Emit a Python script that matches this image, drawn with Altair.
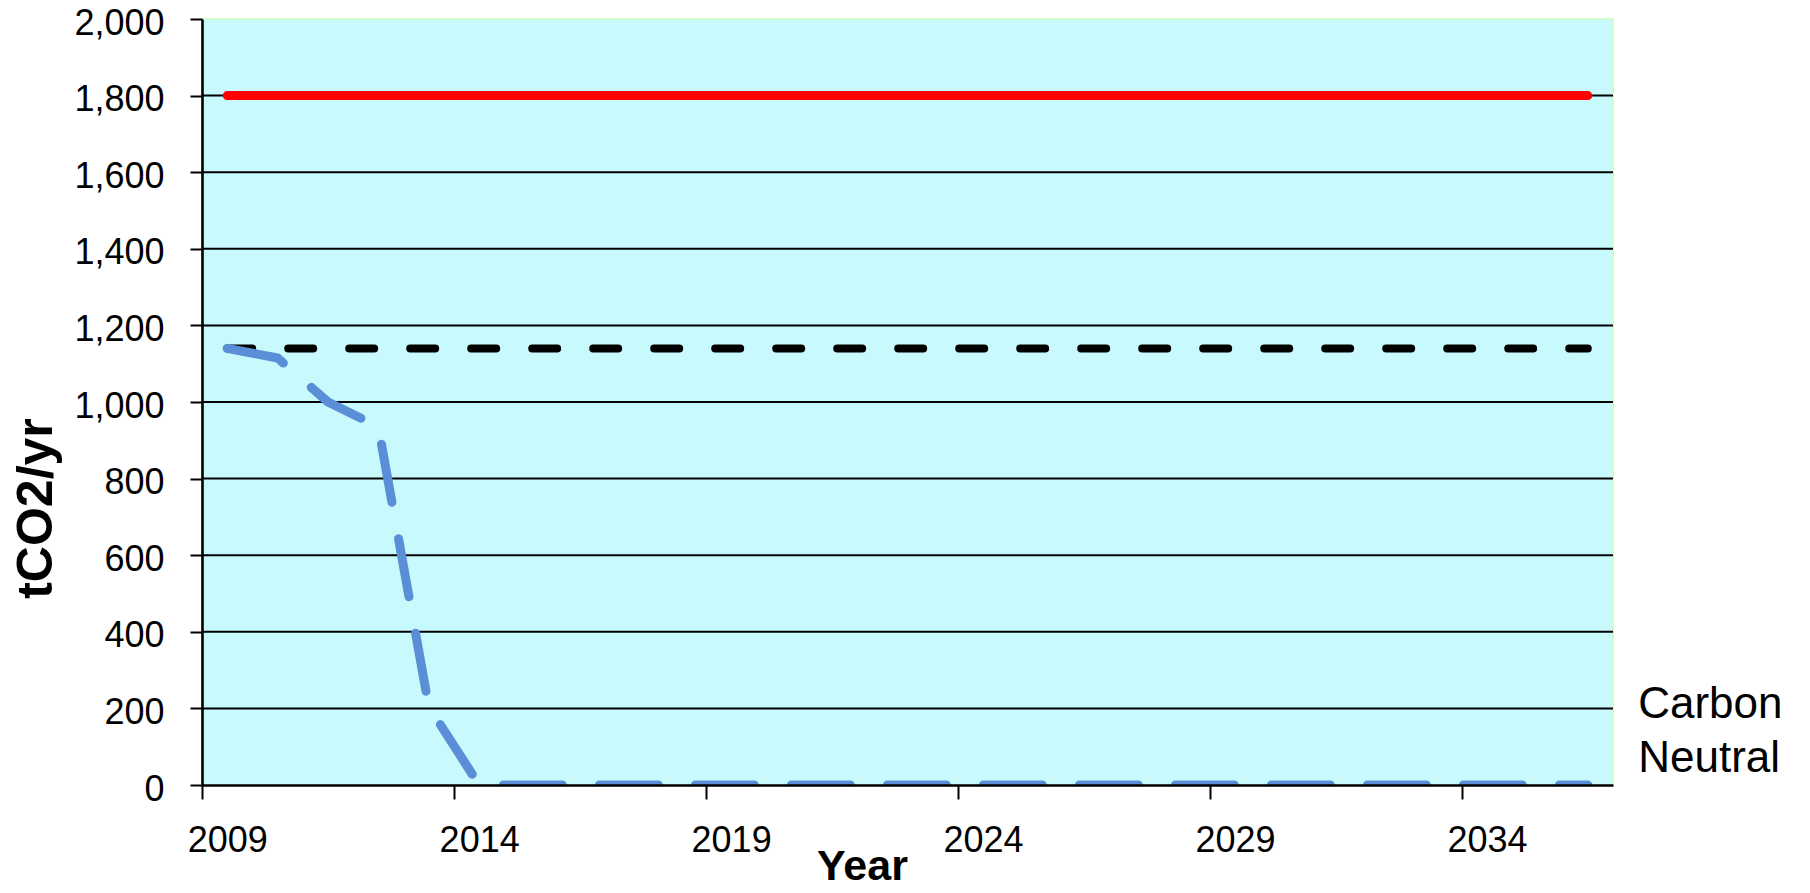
import altair as alt
import pandas as pd

# ---- data -------------------------------------------------------------
years = list(range(2009, 2037))
business_as_usual = [1800] * len(years)
current_level = [1140] * len(years)
reduction_path = [1140, 1115, 1000, 935, 205] + [0] * (len(years) - 5)

grid_levels = [200, 400, 600, 800, 1000, 1200, 1400, 1600, 1800]
y_ticks = [0, 200, 400, 600, 800, 1000, 1200, 1400, 1600, 1800, 2000]
year_labels = [2009, 2014, 2019, 2024, 2029, 2034]
note_lines = ["Carbon", "Neutral"]

# ---- layout -----------------------------------------------------------
FONT = "Liberation Sans"
W, H = 1411, 766
HALF_YEAR = W / 28 / 2  # ticks sit between year categories

bau_df = pd.DataFrame({"year": years, "value": business_as_usual})
cur_df = pd.DataFrame({"year": years, "value": current_level})
red_df = pd.DataFrame({"year": years, "value": reduction_path})
grid_df = pd.DataFrame({"level": grid_levels})

x_scale = alt.Scale(domain=[2008.5, 2036.5], nice=False, zero=False)
y_scale = alt.Scale(domain=[0, 2000], nice=False)

x_axis = alt.Axis(
    values=year_labels, format="d", title="Year",
    tickOffset=-HALF_YEAR, labelOffset=HALF_YEAR,
    labelFont=FONT, labelFontSize=36, labelColor="black",
    labelBaseline="alphabetic", labelPadding=52,
    tickSize=14, tickWidth=2, tickColor="black",
    domainColor="black", domainWidth=2.6,
    titleFont=FONT, titleFontSize=43, titleFontWeight="bold", titleColor="black",
    titleX=660, titleY=94, titleBaseline="alphabetic", titleAlign="center",
    grid=False, labelFlush=False, zindex=1,
)
y_axis = alt.Axis(
    values=y_ticks, format=",d", title="tCO2/yr",
    labelFont=FONT, labelFontSize=36, labelColor="black",
    labelPadding=26, labelBaseline="middle", labelOffset=4,
    tickSize=12, tickWidth=2, tickColor="black",
    domainColor="black", domainWidth=2.6,
    titleFont=FONT, titleFontSize=50, titleFontWeight="bold", titleColor="black",
    titleAngle=270, titleX=-166, titleY=489,
    titleAlign="center", titleBaseline="middle",
    grid=False, labelFlush=False, zindex=1,
)

x_enc = alt.X("year:Q", scale=x_scale, axis=x_axis)
y_enc = alt.Y("value:Q", scale=y_scale, axis=y_axis)

gridlines = alt.Chart(grid_df).mark_rule(color="black", strokeWidth=2).encode(
    y=alt.Y("level:Q", scale=y_scale, axis=y_axis)
)

bau_line = alt.Chart(bau_df).mark_line(
    color="#FF0000", strokeWidth=9, strokeCap="round", clip=True
).encode(x=x_enc, y=y_enc)

current_line = alt.Chart(cur_df).mark_line(
    color="black", strokeWidth=8, strokeCap="round", strokeDash=[25, 36], clip=True
).encode(x=x_enc, y=y_enc)

reduction_line = alt.Chart(red_df).mark_line(
    color="#5A8ED6", strokeWidth=9, strokeCap="round", strokeJoin="round",
    strokeDash=[59, 37], clip=True
).encode(x=x_enc, y=y_enc)

note = alt.Chart(pd.DataFrame({"k": [0]})).mark_text(
    text=note_lines, align="left", baseline="alphabetic",
    font=FONT, fontSize=44, lineHeight=54, color="black", clip=False
).encode(x=alt.datum(2037), y=alt.datum(175))

chart = (
    alt.layer(gridlines, current_line, reduction_line, bau_line, note)
    .properties(
        width=W, height=H,
        autosize=alt.AutoSizeParams(type="none"),
        padding={"left": 202, "top": 19, "right": 197, "bottom": 108},
        background="white",
    )
    .configure_view(fill="#C8F9FC", stroke="#CCFFCC", strokeWidth=2)
)

chart.save("out.html", embed_options={"renderer": "svg", "actions": False})
